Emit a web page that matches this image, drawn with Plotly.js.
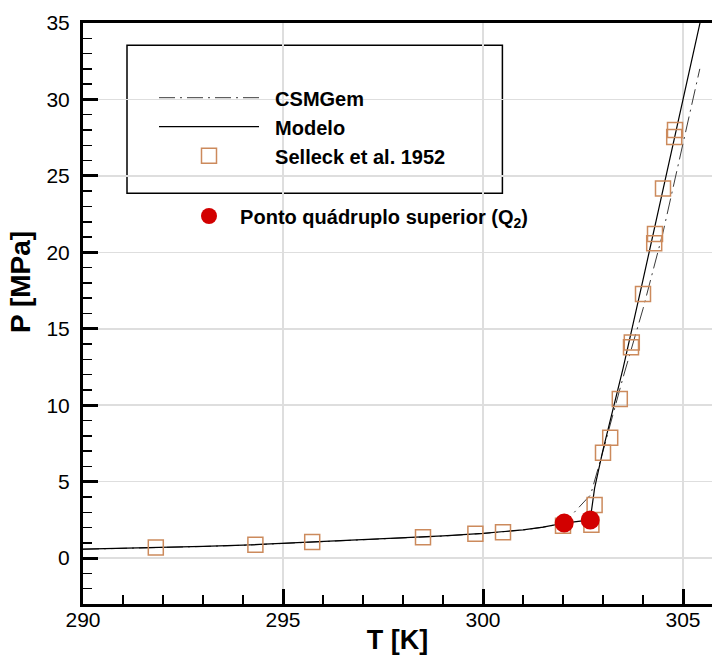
<!DOCTYPE html>
<html>
<head>
<meta charset="utf-8">
<script src="https://cdn.plot.ly/plotly-3.0.1.min.js"></script>
<style>html,body{margin:0;padding:0;background:#fff;}#chart{width:712px;height:657px;}</style>
</head>
<body>
<div id="chart"></div>
<script>
// Selleck et al. 1952 experimental points
const T_selleck = [291.82, 294.31, 295.73, 298.5, 299.81, 300.5, 302.0, 302.71, 302.79, 303.0, 303.18, 303.42, 303.7, 303.72, 304.0, 304.28, 304.3, 304.5, 304.78, 304.8];
const P_selleck = [0.69, 0.87, 1.05, 1.37, 1.59, 1.70, 2.12, 2.18, 3.48, 6.9, 7.88, 10.41, 13.8, 14.1, 17.27, 20.6, 21.2, 24.18, 27.55, 28.0];

// Modelo (solid line)
const T_modelo = [290, 291, 292, 293, 294, 295, 296, 297, 298, 299, 300, 301, 301.5, 302.03, 302.68, 302.79, 303.0, 303.5, 304.0, 304.5, 304.94, 305.45];
const P_modelo = [0.59, 0.64, 0.70, 0.77, 0.85, 0.97, 1.07, 1.17, 1.30, 1.45, 1.62, 1.85, 2.03, 2.29, 2.5, 4.58, 7.08, 12.4, 18.2, 24.1, 29.3, 35.3];

// CSMGem (dash-dot line)
const T_csmgem = [290, 291, 292, 293, 294, 295, 296, 297, 298, 299, 300, 301, 301.5, 302.03, 302.69, 303.0, 303.5, 304.0, 304.5, 305.0, 305.42];
const P_csmgem = [0.58, 0.63, 0.69, 0.76, 0.84, 0.96, 1.06, 1.16, 1.29, 1.44, 1.61, 1.84, 2.02, 2.29, 4.14, 7.0, 11.8, 16.3, 21.3, 27.0, 32.0];

// Upper quadruple point Q2
const T_q2 = [302.03, 302.68];
const P_q2 = [2.29, 2.5];

const xTicks = [290, 295, 300, 305];
const yTicks = [0, 5, 10, 15, 20, 25, 30, 35];

const FONT = 'Liberation Sans, Arial, Helvetica, sans-serif';
const PAD = '\u00a0\u00a0';

const traces = [
  {x: T_csmgem, y: P_csmgem, type: 'scatter', mode: 'lines', name: PAD + 'CSMGem',
   line: {color: '#3a3a3a', width: 1, dash: '16px,5px,2px,5px'}, legend: 'legend', legendgroup: 'a'},
  {x: T_modelo, y: P_modelo, type: 'scatter', mode: 'lines', name: PAD + 'Modelo',
   line: {color: '#000000', width: 1.2}, legend: 'legend', legendgroup: 'b'},
  {x: T_selleck, y: P_selleck, type: 'scatter', mode: 'markers', name: PAD + 'Selleck et al. 1952',
   marker: {symbol: 'square-open', size: 15, color: '#cc8a5c', line: {width: 1.5, color: '#cc8a5c'}},
   legend: 'legend', legendgroup: 'c'},
  {x: T_q2, y: P_q2, type: 'scatter', mode: 'markers', name: PAD + 'Ponto quádruplo superior (Q<sub>2</sub>)',
   marker: {symbol: 'circle', size: 19, color: '#d20000', line: {width: 0}}, legend: 'legend2'}
];

const layout = {
  width: 712, height: 657,
  margin: {l: 83, r: 0, t: 23, b: 53, pad: 0},
  paper_bgcolor: '#ffffff', plot_bgcolor: '#ffffff',
  font: {family: FONT, color: '#000'},
  showlegend: true,
  xaxis: {
    range: [290, 305.725], tickvals: xTicks, ticktext: xTicks.map(String),
    ticks: 'inside', ticklen: 15, tickwidth: 3, tickcolor: '#000',
    minor: {dtick: 1, ticks: 'inside', ticklen: 9, tickwidth: 1.5, tickcolor: '#000', showgrid: false},
    showline: true, linewidth: 3, linecolor: '#000', mirror: true,
    showgrid: true, gridcolor: '#dedede', gridwidth: 1.5, zeroline: false,
    tickfont: {size: 21, family: FONT}, ticklabelstandoff: -5,
    title: {text: 'T [K]', font: {size: 27, family: FONT, weight: 'bold'}, standoff: 0}
  },
  yaxis: {
    range: [-3, 35], tickvals: yTicks, ticktext: yTicks.map(String),
    ticks: 'inside', ticklen: 15, tickwidth: 3, tickcolor: '#000',
    minor: {dtick: 1, ticks: 'inside', ticklen: 9, tickwidth: 1.5, tickcolor: '#000', showgrid: false},
    showline: true, linewidth: 3, linecolor: '#000', mirror: false,
    showgrid: true, gridcolor: '#dedede', gridwidth: 1.5, zeroline: false,
    tickfont: {size: 21, family: FONT}, ticklabelstandoff: 6
  },
  legend: {
    x: (154 - 83) / 629, y: 0.905, xanchor: 'left', yanchor: 'top',
    bgcolor: 'rgba(0,0,0,0)', borderwidth: 0,
    font: {size: 20, family: FONT, weight: 'bold'}, itemwidth: 100, tracegroupgap: 3,
    traceorder: 'normal'
  },
  legend2: {
    x: (189 - 83) / 629, y: 0.7014, xanchor: 'left', yanchor: 'top',
    bgcolor: 'rgba(0,0,0,0)', borderwidth: 0,
    font: {size: 20, family: FONT, weight: 'bold'}
  },
  annotations: [
    {text: 'P [MPa]', xref: 'paper', yref: 'paper', x: (20 - 83) / 629, y: 1 - (282 - 23) / 581,
     xanchor: 'center', yanchor: 'middle', textangle: -90, showarrow: false,
     font: {size: 28, family: FONT, weight: 'bold', color: '#000'}}
  ],
  shapes: [
    {type: 'rect', xref: 'x', yref: 'y', x0: 291.1, x1: 300.485, y0: 23.86, y1: 33.55,
     line: {color: '#000', width: 1.5}, fillcolor: '#ffffff', layer: 'below'}
  ]
};

Plotly.newPlot('chart', traces, layout, {displayModeBar: false, staticPlot: true});
</script>
</body>
</html>
